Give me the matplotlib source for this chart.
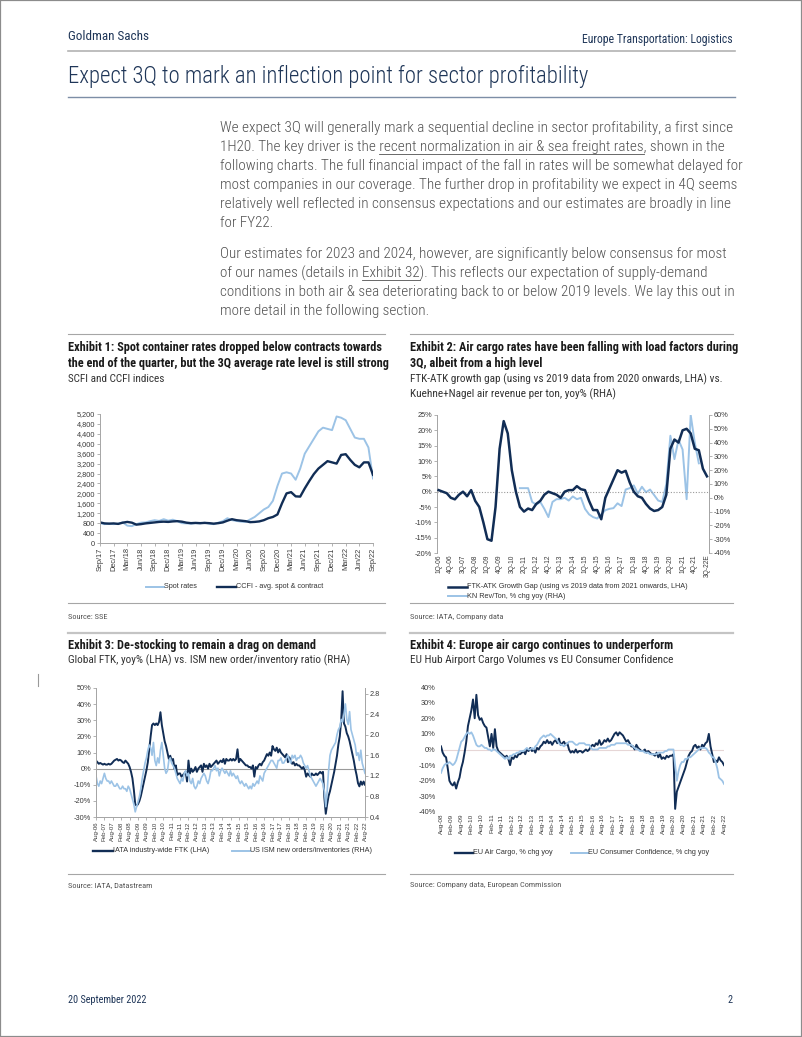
import numpy as np
import matplotlib
matplotlib.use('Agg')
import matplotlib.pyplot as plt
from matplotlib import font_manager
from matplotlib.lines import Line2D
from matplotlib.patches import Rectangle

W, H = 802, 1037
DARK = '#112d55'
LIGHT = '#9cc3e6'
NAVY = '#1f3658'
RULE = '#a6a6a6'

# ---------------- data ----------------
# Exhibit 1: monthly Sep-17 .. Sep-22
ex1_ticks = ['Sep/17', 'Dec/17', 'Mar/18', 'Jun/18', 'Sep/18', 'Dec/18', 'Mar/19',
             'Jun/19', 'Sep/19', 'Dec/19', 'Mar/20', 'Jun/20', 'Sep/20', 'Dec/20',
             'Mar/21', 'Jun/21', 'Sep/21', 'Dec/21', 'Mar/22', 'Jun/22', 'Sep/22']
ex1_spot = [800, 760, 780, 760, 780, 830, 700, 680, 760, 820, 830, 880,
            920, 890, 960, 900, 940, 880, 800, 790, 780, 800, 790, 820,
            780, 760, 820, 880, 1000, 920, 890, 860, 850, 950, 1050, 1200,
            1350, 1450, 1700, 2300, 2800, 2850, 2800, 2550, 3000, 3600, 3900, 4200,
            4500, 4650, 4600, 4550, 5100, 5050, 4950, 4600, 4250, 4200, 4200, 3850,
            2600]
ex1_ccfi = [830, 790, 780, 790, 770, 820, 850, 820, 740, 760, 790, 810,
            830, 850, 860, 850, 870, 880, 860, 820, 800, 810, 800, 810,
            800, 780, 800, 830, 900, 960, 920, 900, 880, 840, 850, 870,
            920, 1000, 1050, 1150, 1600, 2000, 2050, 1880, 1870, 2200, 2500, 2780,
            3000, 3150, 3300, 3250, 3200, 3550, 3580, 3350, 3150, 3050, 3250, 3250,
            2750]

# Exhibit 2: quarterly 1Q-06 .. 3Q-22E
ex2_quarters = [f'{q}Q-{y:02d}' for y in range(6, 23) for q in range(1, 5)][:67]
ex2_quarters[-1] += 'E'
ex2_gap = [0.5, 0, -0.5, -2, -2.5, -1, 0, -1.5, 0.5, -3,
           -5, -10, -15.5, -16, -5, 14, 23, 19, 7, 0,
           -5, -6.5, -5.5, -6, -4, -3, -1, 0, -0.5, -1,
           -2, 0, 0.5, 0.5, 1.8, 0.8, 0.5, -3, -6, -6,
           -9, -2, 1, 4, 7, 6.2, 6.8, 3, 0, -1.5,
           -2, -4, -5.5, -6.3, -6, -5, -1, 14, 17, 16,
           20, 20.5, 19, 14, 13.5, 7.5, 5]
ex2_kn_start = '1Q-11'
ex2_kn = [7, 7, 7, -3, -5, -3, -8, -14, -3, -1,
          -1, 0, -2, 1, -1, 0, -8, -12, -14, -15,
          -12, -9, -8, -7.5, -4, -6, 6, 7, 9, 3,
          8, 4, 6, 2, -2, -3, 10, 45, 28, 42,
          35, -1, 60, 40, 25]

# Exhibit 3: monthly Aug-06 .. Aug-22
ex3_ftk = [5, 4, 3, 3.5, 3, 2.5, 3, 2.5, 2.5, 3, 2.5, 3,
           4, 5, 5.5, 6, 5, 5.5, 5, 4, 3.5, 5, 4, 3,
           1, -2, -6, -13, -22, -23, -22, -20, -17, -13, -9, -5,
           -1, 4, 12, 20, 27, 28, 27, 28, 27, 29, 35, 27,
           22, 17, 14, 10, 6, 8, 5, 6, 0, 2, -4, -3,
           -3, -5, -4, -3, -2, -8, 5, -3, 0, -2, -1, 1,
           -2, 0, 1, 2, -2, 3, 1, 2, 0, 3, 1, 2,
           3, 4, 5, 3, 4, 5, 4, 6, 3, 6, 5, 5,
           6, 5, 6, 5, 6, 12, 4, 6, 5, 4, 3, 2,
           2, 1, 1, 0, 2, -5, 1, 0, 2, 3, 2, 4,
           5, 7, 9, 8, 10, 8, 14, 12, 11, 13, 10, 12,
           10, 9, 8, 7, 9, 4, 7, 5, 3, 4, 2, 3,
           2, 2, 1, 0, 1, -1, -5, -3, -4, -5, -3, -4,
           -4, -3, -4, -3, -2, -3, -2, -18, -28, -22, -17, -14,
           -10, -6, -2, 3, 8, 15, 20, 30, 48, 28, 26, 22,
           20, 17, 13, 9, 5, 0, -4, -9, -11, -8, -10, -8,
           -10]
ex3_ism = [1.2, 1.05, 1.0, 1.1, 1.05, 1.15, 1.25, 1.15, 1.1, 1.1, 1.05, 1.1,
           1.05, 1.0, 1.0, 1.05, 1.0, 0.95, 0.95, 1.0, 0.95, 0.95, 0.9, 1.0,
           0.95, 0.85, 0.75, 0.65, 0.5, 0.6, 0.7, 0.8, 0.95, 1.15, 1.3, 1.45,
           1.55, 1.7, 1.8, 1.75, 1.6, 1.85, 1.5, 1.4, 1.55, 1.45, 1.7, 1.85,
           1.6, 1.35, 1.25, 1.3, 1.5, 1.55, 1.45, 1.4, 1.35, 1.25, 1.15, 1.1,
           1.05, 1.15, 1.1, 1.25, 1.3, 1.2, 1.25, 1.1, 1.05, 1.15, 1.0, 0.95,
           1.0, 1.1, 1.05, 1.15, 1.2, 1.25, 1.2, 1.1, 1.05, 1.15, 1.3, 1.3,
           1.35, 1.4, 1.3, 1.35, 1.2, 1.3, 1.35, 1.3, 1.25, 1.3, 1.25, 1.2,
           1.3, 1.2, 1.25, 1.2, 1.15, 1.2, 1.1, 1.05, 1.1, 1.05, 1.0, 1.05,
           1.0, 0.95, 1.0, 0.95, 1.05, 1.0, 1.05, 1.1, 1.05, 1.2, 1.15, 1.1,
           1.25, 1.3, 1.35, 1.4, 1.45, 1.5, 1.5, 1.45, 1.4, 1.35, 1.5, 1.5,
           1.55, 1.45, 1.45, 1.5, 1.55, 1.6, 1.5, 1.45, 1.6, 1.55, 1.6, 1.5,
           1.55, 1.55, 1.6, 1.55, 1.45, 1.4, 1.35, 1.4, 1.3, 1.2, 1.15, 1.1,
           1.05, 1.0, 1.05, 1.1, 1.15, 1.1, 1.05, 0.9, 0.6, 0.9, 1.3, 1.6,
           1.7, 1.75, 1.8, 1.85, 2.0, 2.1, 2.15, 2.3, 2.25, 2.4, 2.6, 2.3,
           2.2, 2.45, 2.1, 2.0, 1.9, 1.8, 1.6, 1.65, 1.5, 1.7, 1.45, 1.35,
           1.25]

# Exhibit 4: monthly Aug-08 .. Aug-22
ex4_cargo = [2, -2, -4, -5, -12, -20, -22, -23, -21, -25, -21, -18,
             -12, -8, -2, 5, 15, 20, 25, 32, 20, 35, 22, 19,
             20, 17, 15, 14, 8, 2, 10, 1, 13, 2, -1, -2,
             -3, -4, -5, -4, -6, -10, -5, -6, -4, -5, -3, -3,
             -2, -1, -3, 0, -1, 1, -1, 0, -2, 1, 0, 2,
             3, 5, 4, 6, 4, 5, 3, 5, 6, 4, 7, 3,
             4, 5, 3, 4, 0, -2, -1, -2, 0, -2, -1, -1,
             -2, -1, 0, -1, 0, 2, 3, 2, 4, 3, 6, 3,
             4, 6, 5, 7, 5, 6, 8, 10, 11, 9, 11, 10,
             9, 7, 5, 6, 4, 2, 2, 0, 3, 1, 0, -1,
             -1, 0, -2, -1, -2, -3, -3, -4, -2, -5, -3, -6,
             -5, -6, -4, -5, -4, -4, -3, -38, -27, -24, -21, -18,
             -15, -12, -8, -4, -2, -1, 2, 3, 1, 2, 0, 3,
             2, 4, 5, 10, 2, -3, -8, -7, -8, -5, -7, -8,
             -10]
ex4_conf = [-15, -12, -10, -9, -9, -8, -9, -10, -9, -7, -3, 1,
            5, 6, 8, 10, 11, 10, 11, 9, 6, 3, 2, 2,
            3, 2, 1, 1, 0, 0, -1, 0, 0, -1, -2, -3,
            -4, -5, -6, -5, -6, -4, -4, -3, -3, -2, -2, -1,
            -1, -1, 0, 1, 0, 0, 1, 0, 2, 3, 5, 7,
            8, 9, 8, 9, 9, 10, 9, 8, 7, 6, 4, 3,
            3, 2, 3, 4, 5, 5, 5, 4, 3, 3, 4, 4,
            4, 4, 3, 3, 3, 1, 0, 0, 0, 0, 1, 1,
            1, 1, 1, 2, 2, 3, 3, 3, 4, 4, 4, 4,
            4, 4, 4, 3, 3, 3, 2, 1, 0, 0, -1, -1,
            -1, -2, -2, -2, -3, -3, -3, -3, -3, -2, -2, -2,
            -2, -1, -1, 0, 0, 0, 0, -10, -20, -14, -10, -8,
            -8, -6, -6, -5, -5, -4, -3, -2, -1, 0, 1, 1,
            1, 1, 0, -2, -3, -5, -5, -8, -12, -18, -19, -20,
            -22]


def half_year_ticks(first_year, count):
    return [f"{'Aug' if i % 2 == 0 else 'Feb'}-{first_year + (i + 1) // 2:02d}" for i in range(count)]


ex3_ticks = half_year_ticks(6, 33)
ex4_ticks = half_year_ticks(8, 29)

body_p1 = ['We expect 3Q will generally mark a sequential decline in sector profitability, a first since',
           '1H20. The key driver is the recent normalization in air & sea freight rates, shown in the',
           'following charts. The full financial impact of the fall in rates will be somewhat delayed for',
           'most companies in our coverage. The further drop in profitability we expect in 4Q seems',
           'relatively well reflected in consensus expectations and our estimates are broadly in line',
           'for FY22.']
body_p2 = ['Our estimates for 2023 and 2024, however, are significantly below consensus for most',
           'of our names (details in Exhibit 32). This reflects our expectation of supply-demand',
           'conditions in both air & sea deteriorating back to or below 2019 levels. We lay this out in',
           'more detail in the following section.']

# ---------------- fonts ----------------
avail = {f.name for f in font_manager.fontManager.ttflist}


def pick(*names):
    for n in names:
        if n in avail:
            return n
    return 'DejaVu Sans'


NARROW = pick('Liberation Sans Narrow', 'Roboto Condensed', 'Arial Narrow', 'Liberation Sans')
SANS = pick('Liberation Sans', 'Arimo', 'DejaVu Sans')
plt.rcParams['font.family'] = [SANS, 'DejaVu Sans']

fig = plt.figure(figsize=(W / 100, H / 100), dpi=100)
renderer = fig.canvas.get_renderer()


def width_of(s, size, **kw):
    t = fig.text(0, 0, s, fontsize=size, **kw)
    w = t.get_window_extent(renderer).width
    t.remove()
    return w


def fit(s, target, **kw):
    return 10 * target / width_of(s, 10, **kw)


def put(x, y, s, size, **kw):
    return fig.text(x / W, 1 - y / H, s, fontsize=size, va='center', **kw)


def rule(x0, x1, y, color=RULE, lw=0.8):
    fig.add_artist(Line2D([x0 / W, x1 / W], [1 - y / H] * 2, color=color, lw=lw))


def underline(x, y, line, part, size, color, **kw):
    i = line.index(part)
    prefix = line[:i]
    sp = width_of('a a', size, **kw) - width_of('aa', size, **kw)
    x0 = x + width_of(prefix.rstrip(), size, **kw) + sp * (len(prefix) - len(prefix.rstrip()))
    x1 = x0 + width_of(part, size, **kw)
    rule(x0, x1, y + size * 0.62, color=color, lw=0.6)


def axes_px(x0, y0, x1, y1):
    return fig.add_axes([x0 / W, 1 - y1 / H, (x1 - x0) / W, (y1 - y0) / H])


TICK_FS = 5.3
LEG_FS = fit('CCFI - avg. spot & contract', 88)


def style(ax, spines, ticklen=2, xfs=TICK_FS):
    for s in ax.spines:
        ax.spines[s].set_visible(s in spines)
        ax.spines[s].set_color(RULE)
        ax.spines[s].set_linewidth(0.7)
    ax.tick_params(labelsize=TICK_FS, colors=RULE, labelcolor='#3a3a3a',
                   length=ticklen, width=0.6, pad=1.5)
    ax.tick_params(axis='x', labelsize=xfs, pad=1.2)
    ax.set_facecolor('none')


def legend_item(x, y, color, lw, label, seg=18):
    fig.add_artist(Line2D([x / W, (x + seg) / W], [1 - y / H] * 2, color=color, lw=lw))
    put(x + seg, y, label, LEG_FS, color='#333333')


# ---------------- header / body text ----------------
fs = fit('Goldman Sachs', 82, family=NARROW)
put(68, 37, 'Goldman Sachs', fs, family=NARROW, color=NAVY)
fs = fit('Europe Transportation: Logistics', 150, family=NARROW)
put(733, 39, 'Europe Transportation: Logistics', fs, family=NARROW, color=NAVY, ha='right')
rule(68, 735, 51, color='#b3b3b3', lw=1.2)

title = 'Expect 3Q to mark an inflection point for sector profitability'
TT = dict(family=NARROW, weight='light', color=NAVY)
put(68, 76, title, fit(title, 520, **TT), **TT)
rule(68, 735, 97, color='#7d8ea6', lw=1.0)

BODY = dict(family=NARROW, weight='light', color='#505050')
body_fs = fit(body_p1[0], 511, **BODY)
for k, line in enumerate(body_p1):
    put(220, 128 + 19 * k, line, body_fs, **BODY)
for k, line in enumerate(body_p2):
    put(220, 254 + 19 * k, line, body_fs, **BODY)
BODY_KW = dict(family=NARROW, weight='light')
underline(220, 147, body_p1[1], 'recent normalization in air & sea freight rates', body_fs, '#505050', **BODY_KW)
underline(220, 273, body_p2[1], 'Exhibit 32', body_fs, '#505050', **BODY_KW)

# ---------------- exhibit frames ----------------
ex_fs = fit('Exhibit 1: Spot container rates dropped below contracts towards', 316,
            family=NARROW, weight='bold')
sub_fs = fit('Global FTK, yoy% (LHA) vs. ISM new order/inventory ratio (RHA)', 283, family=NARROW)
src_fs = fit('Source: Company data, European Commission', 152, family=NARROW)

for y in (334, 603, 874):
    rule(68, 385, y)
    rule(410, 733, y)
rule(68, 385, 633, color='#c4c4c4', lw=1.6)
rule(410, 733, 633, color='#c4c4c4', lw=1.6)
fig.add_artist(Line2D([38 / W, 38 / W], [1 - 674 / H, 1 - 686 / H], color='#9a9a9a', lw=0.8))

TK = dict(family=NARROW, weight='bold', color='#1a1a1a')
SB = dict(family=NARROW, color='#333333')
put(68, 348, 'Exhibit 1: Spot container rates dropped below contracts towards', ex_fs, **TK)
put(68, 364, 'the end of the quarter, but the 3Q average rate level is still strong', ex_fs, **TK)
put(68, 379, 'SCFI and CCFI indices', sub_fs, **SB)
put(410, 348, 'Exhibit 2: Air cargo rates have been falling with load factors during', ex_fs, **TK)
put(410, 364, '3Q, albeit from a high level', ex_fs, **TK)
put(410, 379, 'FTK-ATK growth gap (using vs 2019 data from 2020 onwards, LHA) vs.', sub_fs, **SB)
put(410, 394, 'Kuehne+Nagel air revenue per ton, yoy% (RHA)', sub_fs, **SB)
put(68, 645, 'Exhibit 3: De-stocking to remain a drag on demand', ex_fs, **TK)
put(68, 660, 'Global FTK, yoy% (LHA) vs. ISM new order/inventory ratio (RHA)', sub_fs, **SB)
put(410, 645, 'Exhibit 4: Europe air cargo continues to underperform', ex_fs, **TK)
put(410, 660, 'EU Hub Airport Cargo Volumes vs EU Consumer Confidence', sub_fs, **SB)

SC = dict(family=NARROW, color='#555555')
put(68, 617, 'Source: SSE', src_fs, **SC)
put(410, 617, 'Source: IATA, Company data', src_fs, **SC)
put(68, 885, 'Source: IATA, Datastream', src_fs, **SC)
put(410, 885, 'Source: Company data, European Commission', src_fs, **SC)

fs = fit('20 September 2022', 78, family=NARROW)
put(68, 1000, '20 September 2022', fs, family=NARROW, color=NAVY)
put(733, 1000, '2', fs, family=NARROW, color=NAVY, ha='right')

# ---------------- Exhibit 1 ----------------
ax1 = axes_px(100, 414, 373, 543)
x1 = np.arange(len(ex1_spot))
ax1.plot(x1, ex1_spot, color=LIGHT, lw=1.4)
ax1.plot(x1, ex1_ccfi, color=DARK, lw=1.7)
ax1.set_xlim(0, len(x1) - 1)
ax1.set_ylim(0, 5200)
ax1.set_yticks(range(0, 5201, 400))
ax1.set_yticklabels([f'{v:,}' for v in range(0, 5201, 400)])
ax1.set_xticks(range(0, len(x1), 3))
ax1.set_xticklabels(ex1_ticks, rotation=90)
style(ax1, ['left', 'bottom'], xfs=5.3)
legend_item(146, 587, LIGHT, 1.4, 'Spot rates', seg=18)
legend_item(217, 587, DARK, 1.7, 'CCFI - avg. spot & contract', seg=19)

# ---------------- Exhibit 2 ----------------
ax2 = axes_px(437, 415, 709, 553)
x2 = np.arange(len(ex2_gap))
k0 = ex2_quarters.index(ex2_kn_start)
ax2r = ax2.twinx()
ax2.axhline(0, color='#9a9a9a', lw=0.8, ls=(0, (1, 1.5)))
ax2r.plot(np.arange(k0, k0 + len(ex2_kn)), ex2_kn, color=LIGHT, lw=1.4)
ax2.plot(x2, ex2_gap, color=DARK, lw=1.8, zorder=5)
ax2.set_zorder(ax2r.get_zorder() + 1)
ax2.set_xlim(-0.4, len(x2) - 0.5)
ax2.set_ylim(-20, 25)
ax2.set_yticks(range(-20, 26, 5))
ax2.set_yticklabels([f'{v}%' for v in range(-20, 26, 5)])
ax2r.set_ylim(-40, 60)
ax2r.set_yticks(range(-40, 61, 10))
ax2r.set_yticklabels([f'{v}%' for v in range(-40, 61, 10)])
ax2.set_xticks(range(0, len(x2), 3))
ax2.set_xticklabels(ex2_quarters[::3], rotation=90)
style(ax2, ['left', 'right'], ticklen=0, xfs=4.8)
style(ax2r, ['left', 'right'], xfs=4.8)
ax2.tick_params(axis='y', length=2)
legend_item(448, 587, DARK, 1.8, 'FTK-ATK Growth Gap (using vs 2019 data from 2021 onwards, LHA)', seg=19)
legend_item(448, 596, LIGHT, 1.4, 'KN Rev/Ton, % chg yoy (RHA)', seg=19)

# ---------------- Exhibit 3 ----------------
ax3 = axes_px(96, 688, 365, 817)
x3 = np.arange(len(ex3_ftk))
ax3r = ax3.twinx()
ax3.axhline(0, color='#9a9a9a', lw=0.8)
ax3.plot(x3, ex3_ftk, color=DARK, lw=1.4)
ax3r.plot(x3, ex3_ism, color=LIGHT, lw=1.2)
ax3.set_xlim(0, len(x3) - 1)
ax3.set_ylim(-30, 50)
ax3.set_yticks(range(-30, 51, 10))
ax3.set_yticklabels([f'{v}%' for v in range(-30, 51, 10)])
ax3r.set_ylim(0.4, 2.91)
ax3r.set_yticks(np.arange(0.4, 2.81, 0.4))
ax3r.set_yticklabels([f'{v:.1f}' for v in np.arange(0.4, 2.81, 0.4)])
ax3.set_xticks(range(0, len(x3), 6))
ax3.set_xticklabels(ex3_ticks, rotation=90)
style(ax3, ['left', 'right', 'bottom'], xfs=4.4)
style(ax3r, ['left', 'right', 'bottom'], xfs=4.4)
legend_item(93, 851, DARK, 1.7, 'IATA industry-wide FTK (LHA)', seg=20)
legend_item(232, 851, LIGHT, 1.4, 'US ISM new orders/inventories (RHA)', seg=18)

# ---------------- Exhibit 4 ----------------
ax4 = axes_px(441, 687, 724, 812)
x4 = np.arange(len(ex4_cargo))
ax4.axhline(0, color='#e6d6d6', lw=0.8)
ax4.plot(x4, ex4_cargo, color=DARK, lw=1.4)
ax4.plot(x4, ex4_conf, color=LIGHT, lw=1.3)
ax4.set_xlim(0, len(x4) - 1)
ax4.set_ylim(-40, 40)
ax4.set_yticks(range(-40, 41, 10))
ax4.set_yticklabels([f'{v}%' for v in range(-40, 41, 10)])
ax4.set_xticks(range(0, len(x4), 6))
ax4.set_xticklabels(ex4_ticks, rotation=90)
style(ax4, [], ticklen=0, xfs=4.6)
ax4.tick_params(axis='y', pad=4)
legend_item(455, 853, DARK, 1.7, 'EU Air Cargo, % chg yoy', seg=18)
legend_item(571, 853, LIGHT, 1.4, 'EU Consumer Confidence, % chg yoy', seg=17)

fig.add_artist(Rectangle((0, 0), 1, 1, transform=fig.transFigure, fill=False,
                         ec='#8c8c8c', lw=1.6))

fig.savefig('out.png', dpi=100)
